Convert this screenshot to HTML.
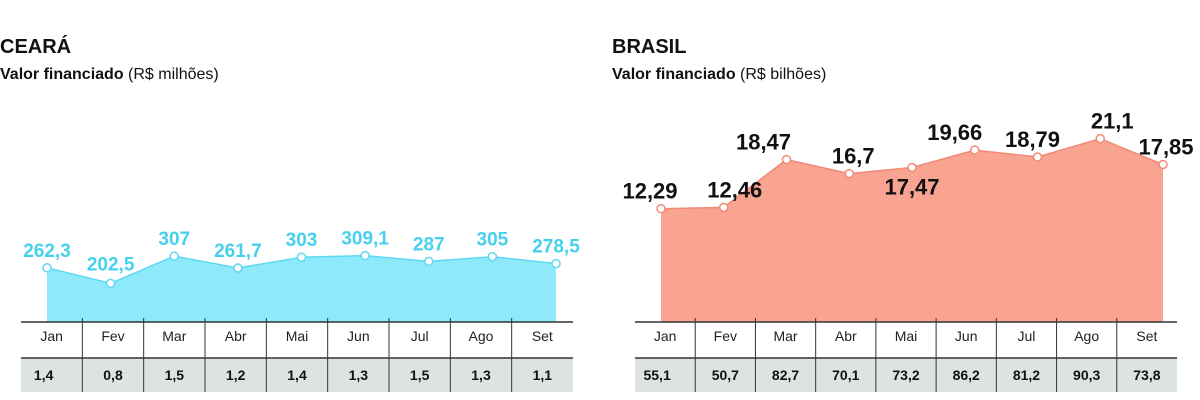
<!DOCTYPE html>
<html><head><meta charset="utf-8">
<style>
body{margin:0;background:#fff;width:1200px;height:400px;overflow:hidden;font-family:"Liberation Sans",sans-serif;}
svg{position:absolute;left:0;top:0}
</style></head>
<body>
<svg id="c" width="1200" height="400">
<text x="0" y="53" font-size="20" font-weight="bold" fill="#111">CEARÁ</text>
<text x="0" y="79" font-size="16" fill="#111"><tspan font-weight="bold">Valor financiado</tspan> (R$ milhões)</text>
<text x="612" y="53" font-size="20" font-weight="bold" fill="#111">BRASIL</text>
<text x="612" y="79" font-size="16" fill="#111"><tspan font-weight="bold">Valor financiado</tspan> (R$ bilhões)</text>
</svg>
<script>
const months=["Jan","Fev","Mar","Abr","Mai","Jun","Jul","Ago","Set"];
const cearaValues=[262.3,202.5,307,261.7,303,309.1,287,305,278.5];
const cearaLabels=["262,3","202,5","307","261,7","303","309,1","287","305","278,5"];
const cearaCount=["1,4","0,8","1,5","1,2","1,4","1,3","1,5","1,3","1,1"];
const brasilValues=[12.29,12.46,18.47,16.7,17.47,19.66,18.79,21.1,17.85];
const brasilLabels=["12,29","12,46","18,47","16,7","17,47","19,66","18,79","21,1","17,85"];
const brasilCount=["55,1","50,7","82,7","70,1","73,2","86,2","81,2","90,3","73,8"];

const NS="http://www.w3.org/2000/svg";
const svg=document.getElementById('c');
function mk(tag,attrs,parent){const e=document.createElementNS(NS,tag);for(const k in attrs)e.setAttribute(k,attrs[k]);(parent||svg).appendChild(e);return e;}

function drawPanel(o){
  const g=mk('g',{});
  
  
  const step=(o.x1-o.x0)/(months.length-1);
  const xs=i=>o.x0+i*step;
  const ys=v=>o.y0-(v-o.vmin)*o.k;
  let d='M'+xs(0)+','+o.base;
  o.values.forEach((v,i)=>{d+=' L'+xs(i)+','+ys(v);});
  d+=' L'+xs(months.length-1)+','+o.base+' Z';
  const area=mk('path',{d:d,fill:o.fill},g);
  
  
  let ld='';o.values.forEach((v,i)=>{ld+=(i?' L':'M')+xs(i)+','+ys(v);});
  const line=mk('path',{d:ld,fill:'none',stroke:o.stroke,'stroke-width':1.5},g);
  
  
  o.values.forEach((v,i)=>{
    const c=mk('circle',{cx:xs(i),cy:ys(v),r:4,fill:'#fff',stroke:o.stroke,'stroke-width':1.5},g);
    
    
    const below=o.below.includes(i);
    const t=mk('text',{x:xs(i)+(o.dx[i]||0),y:below?ys(v)+o.belowOff:ys(v)-o.aboveOff,'text-anchor':'middle','font-size':o.fs,'font-weight':'bold',fill:o.labelColor},g);
    t.textContent=o.labels[i];
    
    
  });
  // table
  const tl=o.t0,tr=o.t1;
  const gray=mk('rect',{x:tl,y:o.base+36,width:tr-tl,height:34,fill:'#dde3e3'},g);
  
  
  mk('line',{x1:tl,x2:tr,y1:o.base,y2:o.base,stroke:'#333','stroke-width':1.5},g);
  mk('line',{x1:tl,x2:tr,y1:o.base+36,y2:o.base+36,stroke:'#333','stroke-width':1.5},g);
  const cw=(tr-tl)/months.length;
  for(let i=1;i<months.length;i++){
    mk('line',{x1:tl+i*cw,x2:tl+i*cw,y1:o.base-4,y2:o.base+70,stroke:'#333','stroke-width':1},g);
  }
  months.forEach((m,i)=>{
    const t=mk('text',{x:tl+(i+0.5)*cw,y:o.base+19,'text-anchor':'middle','font-size':14,fill:'#222'},g);
    t.textContent=m;
    
    
    const n=mk('text',{x:tl+(i+0.5)*cw+(i==0?-8:0),y:o.base+58,'text-anchor':'middle','font-size':14,'font-weight':'bold',fill:'#111'},g);
    n.textContent=o.counts[i];
    
    
  });
}
drawPanel({name:'ceara',values:cearaValues,labels:cearaLabels,counts:cearaCount,x0:47,x1:556,base:322,
  vmin:200,y0:284,k:0.26,fill:'#8ee9fb',stroke:'#5fd8f2',labelColor:'#45d0ee',fs:19,
  below:[1],aboveOff:11,belowOff:-13,dx:{},t0:21,t1:573});
drawPanel({name:'brasil',values:brasilValues,labels:brasilLabels,counts:brasilCount,x0:661,x1:1163,base:322,
  vmin:12,y0:211,k:7.95,fill:'#f9a391',stroke:'#f08a76',labelColor:'#111',fs:22,
  below:[4],aboveOff:10,belowOff:27,dx:{0:-11,1:11,2:-23,3:4,5:-20,6:-5,7:12,8:3},t0:635,t1:1177});
</script>
</body></html>
